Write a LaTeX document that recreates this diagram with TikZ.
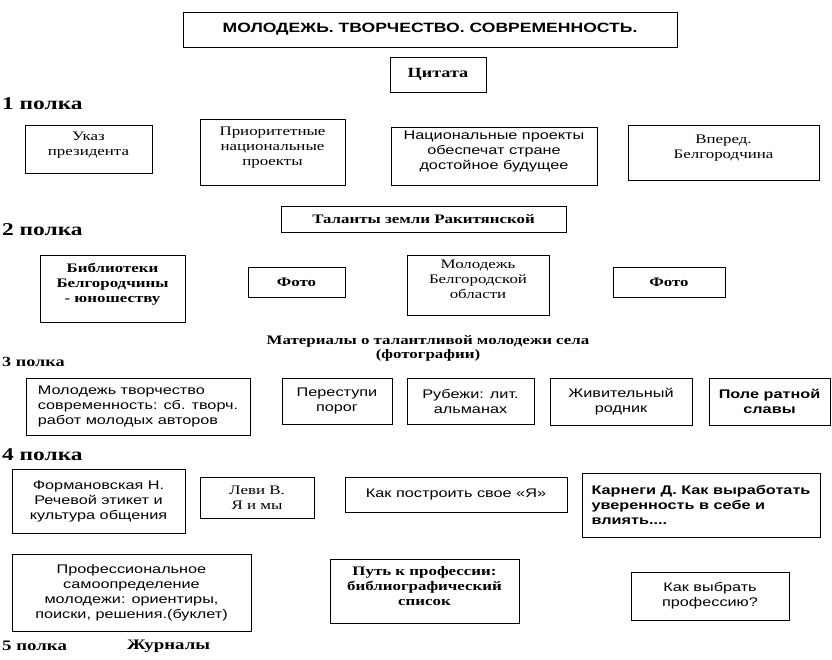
\documentclass[tikz,border=0pt]{standalone}
\usepackage{fontspec}
\setmainfont{Liberation Serif}[FakeStretch=1.3]
\newfontfamily\helv{Liberation Sans}[FakeStretch=1.3]
\usepackage{tikz}
\usetikzlibrary{positioning}

\begin{document}
\begin{tikzpicture}[x=1pt, y=-1pt]
                \tikzstyle{book} = [draw, rectangle, line width=1pt, align=center, inner sep=0pt, font=\fontsize{13}{15}\selectfont]
                \tikzstyle{sbook} = [book, font=\helv\fontsize{12.5}{15}\selectfont]
                \tikzstyle{bbook} = [book, font=\bfseries\fontsize{13}{15}\selectfont]
                \tikzstyle{upper} = [text depth=11pt]
                \tikzstyle{shelf} = [anchor=west, inner sep=0pt, font=\bfseries\fontsize{18}{20}\selectfont]
                \useasboundingbox (0,0) rectangle (832,659);

                \node [book, font=\helv\bfseries\fontsize{13.5}{15}\selectfont, minimum width=494pt, minimum height=35pt] (title) at (430,29.5) {МОЛОДЕЖЬ. ТВОРЧЕСТВО. СОВРЕМЕННОСТЬ.};
                \node [bbook, font=\bfseries\fontsize{14}{16}\selectfont, minimum width=96pt, minimum height=35pt] (citata) at (438,74.5) {Цитата};

                \node [shelf] (shelf1) at (2,104) {1 полка};
                \node [book, upper, minimum width=127pt, minimum height=48pt] (ukaz) at (88.5,149) {Указ\\президента};
                \node [book, upper, minimum width=145pt, minimum height=66pt] (prior) at (272.5,152) {Приоритетные\\национальные\\проекты};
                \node [sbook, upper, minimum width=206pt, minimum height=58pt] (nacproj) at (494,156) {Национальные проекты\\обеспечат стране\\достойное будущее};
                \node [book, upper, minimum width=191pt, minimum height=55pt] (vpered) at (723.5,152.5) {Вперед.\\Белгородчина};

                \node [bbook, minimum width=285pt, minimum height=26pt] (talanty) at (423.5,219) {Таланты земли Ракитянской};
                \node [shelf] (shelf2) at (2,230) {2 полка};
                \node [bbook, upper, minimum width=145pt, minimum height=67pt] (biblio) at (112.5,288.5) {Библиотеки\\Белгородчины\\- юношеству};
                \node [bbook, minimum width=97pt, minimum height=30pt] (foto1) at (296.5,282) {Фото};
                \node [book, upper, minimum width=142pt, minimum height=60pt] (molbel) at (478,285) {Молодежь\\Белгородской\\области};
                \node [bbook, minimum width=112pt, minimum height=30pt] (foto2) at (669,282) {Фото};

                \node [align=center, inner sep=0pt, font=\bfseries\fontsize{13}{14}\selectfont] (materialy) at (428,348) {Материалы о талантливой молодежи села\\(фотографии)};
                \node [shelf, font=\bfseries\fontsize{14}{16}\selectfont] (shelf3) at (2,362) {3 полка};
                \node [sbook, align=left, minimum width=224pt, minimum height=57pt] (moltvor) at (138,406.5) {Молодежь творчество\\современность: сб. творч.\\работ молодых авторов};
                \node [sbook, minimum width=110pt, minimum height=46pt] (perestupi) at (337,401) {Переступи\\порог};
                \node [sbook, minimum width=127pt, minimum height=46pt] (rubezhi) at (470.5,401) {Рубежи: лит.\\альманах};
                \node [sbook, minimum width=142pt, minimum height=47pt] (rodnik) at (621,401.5) {Живительный\\родник};
                \node [sbook, font=\helv\bfseries\fontsize{12.5}{15}\selectfont, minimum width=121pt, minimum height=47pt] (pole) at (769.5,401.5) {Поле ратной\\славы};

                \node [shelf] (shelf4) at (2,455) {4 полка};
                \node [sbook, minimum width=173pt, minimum height=64pt] (forman) at (98.5,501) {Формановская Н.\\Речевой этикет и\\культура общения};
                \node [book, minimum width=114pt, minimum height=41pt] (levi) at (257,497.5) {Леви В.\\Я и мы};
                \node [sbook, minimum width=222pt, minimum height=35pt] (kak) at (456,494.5) {Как построить свое «Я»};
                \node [sbook, font=\helv\bfseries\fontsize{12.5}{15}\selectfont, align=left, minimum width=238pt, minimum height=64pt] (karnegi) at (701,505) {Карнеги Д. Как выработать\\уверенность в себе и\\влиять....};

                \node [sbook, minimum width=239pt, minimum height=77pt] (profsamo) at (131.5,592.5) {Профессиональное\\самоопределение\\молодежи: ориентиры,\\поиски, решения.(буклет)};
                \node [bbook, upper, minimum width=189pt, minimum height=64pt] (put) at (424.5,591) {Путь к профессии:\\библиографический\\список};
                \node [sbook, minimum width=158pt, minimum height=48pt] (vybrat) at (710,596) {Как выбрать\\профессию?};

                \node [shelf, font=\bfseries\fontsize{14.5}{16}\selectfont] (shelf5) at (2,646) {5 полка};
                \node [shelf, font=\bfseries\fontsize{14.5}{16}\selectfont] (zhurnaly) at (127,646) {Журналы};
\end{tikzpicture}
\end{document}
